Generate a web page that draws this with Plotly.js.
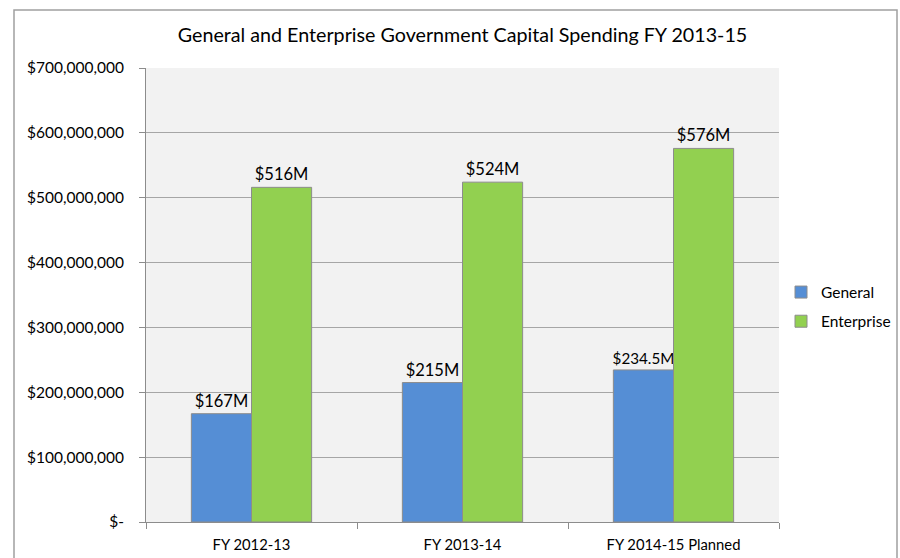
<!DOCTYPE html>
<html><head><meta charset="utf-8">
<script src="https://cdn.plot.ly/plotly-3.0.1.min.js"></script>
<style>html,body{margin:0;padding:0;background:#fff}#c{width:900px;height:558px}</style>
</head><body><div id="c"></div>
<script>
const categories = ["FY 2012-13", "FY 2013-14", "FY 2014-15 Planned"];
const generalValues = [167000000, 215000000, 234500000];
const enterpriseValues = [516000000, 524000000, 576000000];
const generalLabels = ["$167M", "$215M", "$234.5M"];
const enterpriseLabels = ["$516M", "$524M", "$576M"];
const yTickVals = [0, 100000000, 200000000, 300000000, 400000000, 500000000, 600000000, 700000000];
const yTickText = ["$-", "$100,000,000", "$200,000,000", "$300,000,000", "$400,000,000", "$500,000,000", "$600,000,000", "$700,000,000"];

const W = 900, H = 558, L = 146, R = 121, T = 68, B = 36;
const pw = W - L - R, ph = H - T - B;
const px = v => (v - L) / pw, py = v => (H - B - v) / ph;

const font = "Lato, 'Open Sans', sans-serif";
const traces = [
  {type: "bar", name: "General", legendgroup: "g1", x: categories, y: generalValues, text: generalLabels,
   textposition: "outside", constraintext: "none", textfont: {size: [16.5, 16.5, 15.2], color: "#000", family: font}, cliponaxis: false,
   marker: {color: "#558ED5", line: {color: "#8C8C8C", width: 1}}, hoverinfo: "none"},
  {type: "bar", name: "Enterprise", legendgroup: "g2", x: categories, y: enterpriseValues, text: enterpriseLabels,
   textposition: "outside", constraintext: "none", textfont: {size: 16.5, color: "#000", family: font}, cliponaxis: false,
   marker: {color: "#92D050", line: {color: "#8C8C8C", width: 1}}, hoverinfo: "none"}
];
const layout = {
  width: W, height: H,
  margin: {l: L, r: R, t: T, b: B, autoexpand: false},
  paper_bgcolor: "#fff", plot_bgcolor: "#F2F2F2",
  font: {family: font, size: 15.5, color: "#000"},
  title: {text: "General and Enterprise Government Capital Spending FY 2013-15",
          font: {size: 19.7, family: font, color: "#000"}, xref: "paper", x: 0.5, xanchor: "center",
          y: 1 - 35/H, yanchor: "middle"},
  barmode: "group", bargap: 0.43, bargroupgap: 0,
  showlegend: true,
  legend: {x: px(781), xanchor: "left", y: py(307), yanchor: "middle", font: {size: 15.5, family: font},
           bgcolor: "rgba(0,0,0,0)", tracegroupgap: 6, itemwidth: 30},
  xaxis: {type: "category", tickson: "boundaries", ticks: "outside", ticklen: 6, tickcolor: "#8C8C8C",
          showline: true, linecolor: "#8C8C8C", showgrid: false, tickfont: {size: 14.8},
          ticklabelstandoff: 9, fixedrange: true},
  yaxis: {range: [0, 700000000], tickvals: yTickVals, ticktext: yTickText, ticks: "outside", ticklen: 6,
          tickcolor: "#8C8C8C", showline: true, linecolor: "#8C8C8C", showgrid: true, gridcolor: "#A6A6A6",
          gridwidth: 1, zeroline: false, tickfont: {size: 15.5}, ticklabelstandoff: 12, fixedrange: true},
  shapes: [{type: "rect", xref: "paper", yref: "paper", x0: px(14), x1: px(897), y0: py(570), y1: py(10),
            line: {color: "#A0A0A0", width: 1.5}, fillcolor: "rgba(0,0,0,0)", layer: "below"}]
};
Plotly.newPlot("c", traces, layout, {staticPlot: true, displayModeBar: false});
</script></body></html>
